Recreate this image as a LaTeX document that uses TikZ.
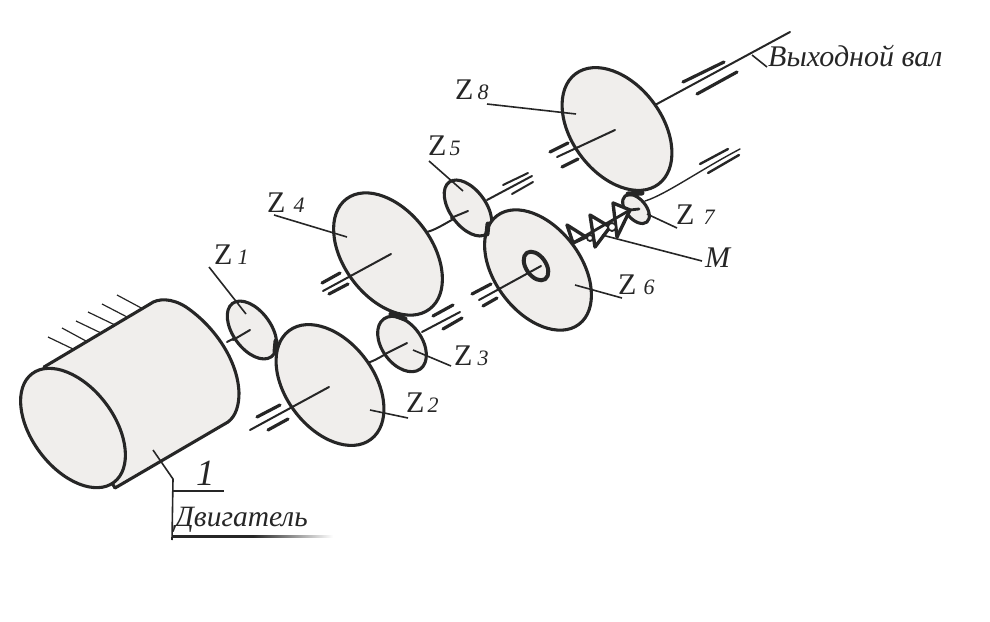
\documentclass[tikz,border=0pt]{standalone}
\usepackage{fontspec}
\setmainfont{Liberation Serif}
\definecolor{ink}{HTML}{262626}
\definecolor{disc}{HTML}{F0EEEC}
\tikzset{
  body/.style={draw=ink,line width=3.1pt,fill=disc,line join=round},
  axle/.style={draw=ink,line width=2pt,line cap=round},
  bearing/.style={draw=ink,line width=3.2pt,line cap=round},
  leader/.style={draw=ink,line width=1.6pt},
  hatchline/.style={draw=ink,line width=1.2pt},
  mesh/.style={draw=ink,line width=5pt,line cap=round},
  springtri/.style={draw=ink,line width=3.4pt,fill=white,line join=round},
  lab/.style={inner sep=0pt,anchor=base west,text=ink}
}
\newcommand{\gearA}[6][body]{\draw[#1,shift={(#2,#3)},rotate=#6] (0,0) ellipse [x radius=#4,y radius=#5];}
\newcommand{\zlab}[5]{\node[lab] (#1) at (#2,#3) {\fontsize{30}{30}\selectfont Z\hspace{#5pt}\fontsize{22}{22}\selectfont\itshape #4};}
\begin{document}
\begin{tikzpicture}[x=1pt,y=1pt,yscale=-1]
\useasboundingbox (0,0) rectangle (990,621);
% hatching of the motor mount
\draw[hatchline] (48,337)--(73,349) (62,328)--(86,341) (76,321)--(101,333)
  (88,312)--(115,325) (102,304)--(129,318) (117,295)--(145,310);
% motor body
\draw[body] (44,367) -- (150,304) .. controls (158,298) and (172,298) .. (186,307)
  .. controls (214,326) and (238,360) .. (239,393)
  .. controls (239,405) and (236,416) .. (228,422) -- (115,488) -- cycle;
\gearA{73}{428}{68}{41}{53}
% shafts behind the discs
\draw[axle] (227,342) -- (250,330);
\draw[axle] (367,363) .. controls (378,360) and (385,353) .. (407,343);
\draw[axle] (427,232) .. controls (438,229) and (447,222) .. (468,211);
\draw[axle] (422,332) -- (460,312);
\draw[axle] (487,200) -- (532,176);
\draw[axle] (655,105) -- (790,32);
\draw[axle,line width=1.4pt] (645,201) .. controls (665,195) and (700,170) .. (740,149);
% discs
\gearA{252}{330}{33}{19}{54}
\gearA{330}{385}{68}{44}{53}
\gearA{402}{344}{31}{20}{54}
\gearA{388}{254}{69}{44}{53}
\gearA{468}{208}{32}{18}{54}
\gearA{538}{270}{68}{43}{53}
\gearA{617}{129}{69}{45}{53}
\gearA{636}{209}{17}{10}{50}
\gearA[body,line width=4pt]{536}{266}{16}{10}{55}
% mesh contact points
\draw[mesh] (276,341) -- (275,352);
\draw[mesh] (391,314) -- (405,319);
\draw[mesh] (488,224) -- (487,234);
\draw[mesh] (628,194) -- (642,193);
% shafts in front of the discs
\draw[axle] (233,340) -- (250,330);
\draw[axle] (250,430) -- (329,387);
\draw[axle] (385,354) -- (407,343);
\draw[axle] (323,291) -- (391,254);
\draw[axle] (451,218) -- (468,211);
\draw[axle] (479,300) -- (541,266);
\draw[axle] (557,157) -- (615,130);
% bearings
\draw[bearing] (257,417) -- (280,405);
\draw[bearing] (268,430) -- (288,419);
\draw[bearing] (433,316) -- (453,305);
\draw[bearing] (443,329) -- (462,318);
\draw[bearing] (322,283) -- (340,273);
\draw[bearing] (329,294) -- (348,284);
\draw[bearing,line width=2pt] (503,185) -- (528,173);
\draw[bearing,line width=2pt] (512,194) -- (533,182);
\draw[bearing] (472,294) -- (491,284);
\draw[bearing] (483,306) -- (497,298);
\draw[bearing] (550,152) -- (568,143);
\draw[bearing] (562,167) -- (578,159);
\draw[bearing] (683,82) -- (724,62);
\draw[bearing] (697,94) -- (737,72);
\draw[bearing,line width=2.4pt] (700,164) -- (728,149);
\draw[bearing,line width=2.4pt] (708,173) -- (739,155);
% spring clutch M
\draw[springtri] (567,225) -- (573,243) -- (586,237) -- cycle;
\draw[springtri] (590,215) -- (595,247) -- (610,227) -- cycle;
\draw[springtri] (613,203) -- (617,237) -- (630,210) -- cycle;
\draw[axle,line width=2.8pt] (573,243) -- (630,210) -- (639,209);
\draw[springtri,line width=1.8pt] (590,238) circle [radius=3];
\draw[springtri,line width=1.8pt] (612,227) circle [radius=4];
% leaders
\draw[leader] (209,267) -- (246,314);
\draw[leader] (274,215) -- (347,237);
\draw[leader] (429,161) -- (463,191);
\draw[leader] (451,366) -- (413,350);
\draw[leader] (408,418) -- (370,410);
\draw[leader] (487,104) -- (576,114);
\draw[leader] (677,228) -- (647,214);
\draw[leader] (702,261) -- (602,235);
\draw[leader] (622,298) -- (575,285);
\draw[leader] (752,55) -- (767,67);
\draw[leader] (153,450) -- (173,479) -- (172,540);
\draw[leader] (173,491) -- (224,491);
\shade[left color=ink,right color=white,middle color=ink] (173,535) rectangle (333,537.5);
% labels
\zlab{zone}{214}{264}{1}{5}
\zlab{ztwo}{406}{412}{2}{3}
\zlab{zthree}{454}{365}{3}{5}
\zlab{zfour}{267}{212}{4}{8}
\zlab{zfive}{428}{155}{5}{3}
\zlab{zsix}{618}{294}{6}{7}
\zlab{zseven}{676}{224}{7}{9}
\zlab{zeight}{455}{99}{8}{4}
\node[lab] (clutch) at (705,267) {\fontsize{30}{30}\selectfont\itshape M};
\node[lab] (motornum) at (196,485) {\fontsize{37}{37}\selectfont\itshape 1};
\node[lab] (motor) at (175,526) {\fontsize{29.5}{29.5}\selectfont\itshape Двигатель};
\node[lab] (output) at (768,66) {\fontsize{30}{30}\selectfont\itshape Выходной вал};
\end{tikzpicture}
\end{document}
